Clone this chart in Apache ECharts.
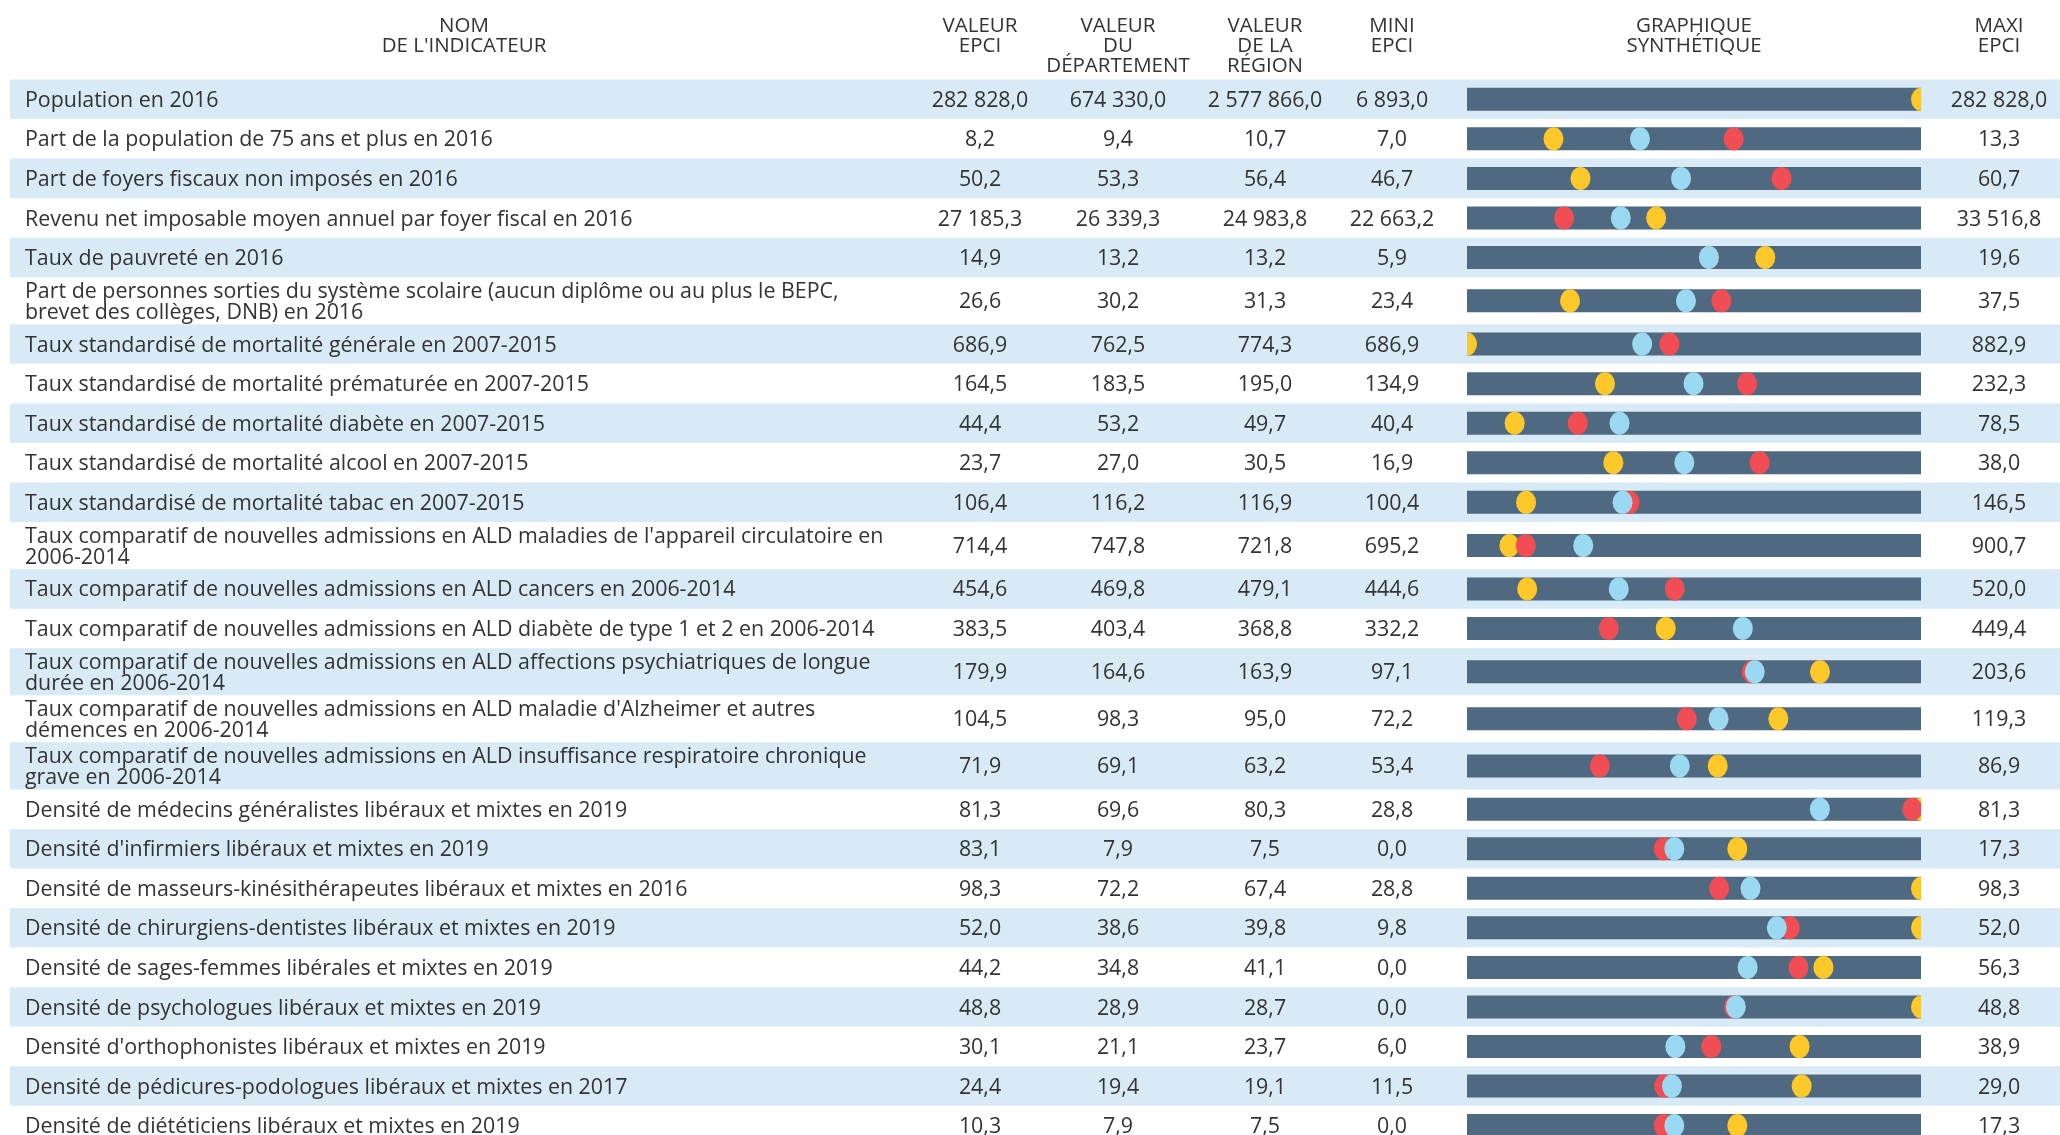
<!DOCTYPE html>
<html>
<head>
<meta charset="utf-8">
<title>Indicateurs EPCI</title>
<script src="https://cdn.jsdelivr.net/npm/echarts@6/dist/echarts.min.js"></script>
<style>
  html, body { margin: 0; padding: 0; background: #fff; }
  #chart { width: 2060px; height: 1135px; }
</style>
</head>
<body>
<div id="chart"></div>
<script>
// ---- données ----
const headers = [
  "NOM\nDE L'INDICATEUR",
  'VALEUR\nEPCI',
  'VALEUR\nDU\nDÉPARTEMENT',
  'VALEUR\nDE LA\nRÉGION',
  'MINI\nEPCI',
  'GRAPHIQUE\nSYNTHÉTIQUE',
  'MAXI\nEPCI'
];

const indicators = [
  'Population en 2016',
  'Part de la population de 75 ans et plus en 2016',
  'Part de foyers fiscaux non imposés en 2016',
  'Revenu net imposable moyen annuel par foyer fiscal en 2016',
  'Taux de pauvreté en 2016',
  'Part de personnes sorties du système scolaire (aucun diplôme ou au plus le BEPC,\nbrevet des collèges, DNB) en 2016',
  'Taux standardisé de mortalité générale en 2007-2015',
  'Taux standardisé de mortalité prématurée en 2007-2015',
  'Taux standardisé de mortalité diabète en 2007-2015',
  'Taux standardisé de mortalité alcool en 2007-2015',
  'Taux standardisé de mortalité tabac en 2007-2015',
  "Taux comparatif de nouvelles admissions en ALD maladies de l'appareil circulatoire en\n2006-2014",
  'Taux comparatif de nouvelles admissions en ALD cancers en 2006-2014',
  'Taux comparatif de nouvelles admissions en ALD diabète de type 1 et 2 en 2006-2014',
  'Taux comparatif de nouvelles admissions en ALD affections psychiatriques de longue\ndurée en 2006-2014',
  "Taux comparatif de nouvelles admissions en ALD maladie d'Alzheimer et autres\ndémences en 2006-2014",
  'Taux comparatif de nouvelles admissions en ALD insuffisance respiratoire chronique\ngrave en 2006-2014',
  'Densité de médecins généralistes libéraux et mixtes en 2019',
  "Densité d'infirmiers libéraux et mixtes en 2019",
  'Densité de masseurs-kinésithérapeutes libéraux et mixtes en 2016',
  'Densité de chirurgiens-dentistes libéraux et mixtes en 2019',
  'Densité de sages-femmes libérales et mixtes en 2019',
  'Densité de psychologues libéraux et mixtes en 2019',
  "Densité d'orthophonistes libéraux et mixtes en 2019",
  'Densité de pédicures-podologues libéraux et mixtes en 2017',
  'Densité de diététiciens libéraux et mixtes en 2019'
];

const epci = [282828.0, 8.2, 50.2, 27185.3, 14.9, 26.6, 686.9, 164.5, 44.4, 23.7, 106.4, 714.4, 454.6,
  383.5, 179.9, 104.5, 71.9, 81.3, 83.1, 98.3, 52.0, 44.2, 48.8, 30.1, 24.4, 10.3];
const departement = [674330.0, 9.4, 53.3, 26339.3, 13.2, 30.2, 762.5, 183.5, 53.2, 27.0, 116.2, 747.8, 469.8,
  403.4, 164.6, 98.3, 69.1, 69.6, 7.9, 72.2, 38.6, 34.8, 28.9, 21.1, 19.4, 7.9];
const region = [2577866.0, 10.7, 56.4, 24983.8, 13.2, 31.3, 774.3, 195.0, 49.7, 30.5, 116.9, 721.8, 479.1,
  368.8, 163.9, 95.0, 63.2, 80.3, 7.5, 67.4, 39.8, 41.1, 28.7, 23.7, 19.1, 7.5];
const miniEpci = [6893.0, 7.0, 46.7, 22663.2, 5.9, 23.4, 686.9, 134.9, 40.4, 16.9, 100.4, 695.2, 444.6,
  332.2, 97.1, 72.2, 53.4, 28.8, 0.0, 28.8, 9.8, 0.0, 0.0, 6.0, 11.5, 0.0];
const maxiEpci = [282828.0, 13.3, 60.7, 33516.8, 19.6, 37.5, 882.9, 232.3, 78.5, 38.0, 146.5, 900.7, 520.0,
  449.4, 203.6, 119.3, 86.9, 81.3, 17.3, 98.3, 52.0, 56.3, 48.8, 38.9, 29.0, 17.3];
// valeur EPCI telle que placée dans le graphique (la ligne infirmiers y montre 10,3)
const epciGraph = [282828.0, 8.2, 50.2, 27185.3, 14.9, 26.6, 686.9, 164.5, 44.4, 23.7, 106.4, 714.4, 454.6,
  383.5, 179.9, 104.5, 71.9, 81.3, 10.3, 98.3, 52.0, 44.2, 48.8, 30.1, 24.4, 10.3];

// ---- mise en page ----
const ROW_H = 39.55;         // ligne simple, px
const ROW_2LINES = 1.19;     // ligne sur deux lignes de texte
const TOP = 79.5;
const NAME_X = 25;
const COL_X = [464, 980, 1118, 1265, 1392, 1694, 1999];
const BAR_LEFT = 1467, BAR_W = 454, BAR_H = 23;
const FONT = '"Open Sans", sans-serif';
const TXT = '#333333';
const TEXT_DY = 1.5;

let acc = 0;
const rowSpans = indicators.map(t => {
  const u = t.indexOf('\n') >= 0 ? ROW_2LINES : 1;
  const s = acc;
  acc += u;
  return [s, acc];
});
const totalUnits = acc;
const rowMid = rowSpans.map(r => (r[0] + r[1]) / 2);

function fmt(v) {
  const parts = v.toFixed(1).split('.');
  return parts[0].replace(/\B(?=(\d{3})+(?!\d))/g, ' ') + ',' + parts[1];
}
const norm = (v, i) => (v - miniEpci[i]) / (maxiEpci[i] - miniEpci[i]);

function txt(x, y, s, align) {
  return {
    type: 'text', x: x, y: y + TEXT_DY,
    style: { text: s, fill: TXT, fontSize: 21.4, fontFamily: FONT, lineHeight: 21,
      align: align, verticalAlign: 'middle' }
  };
}

function renderRow(params, api) {
  const i = params.dataIndex;
  const y0 = api.coord([0, api.value(0)])[1];
  const y1 = api.coord([0, api.value(1)])[1];
  const yc = (y0 + y1) / 2;
  const children = [];
  if (i % 2 === 0) {
    const xa = api.coord([10, 0])[0], xb = api.coord([2060, 0])[0];
    children.push({ type: 'rect', shape: { x: xa, y: y0, width: xb - xa, height: y1 - y0 },
      style: { fill: '#d7eaf6' } });
  }
  children.push(txt(api.coord([NAME_X, 0])[0], yc, indicators[i], 'left'));
  const vals = [epci[i], departement[i], region[i], miniEpci[i]];
  vals.forEach((v, k) => children.push(txt(api.coord([COL_X[k + 1], 0])[0], yc, fmt(v), 'center')));
  children.push(txt(api.coord([COL_X[6], 0])[0], yc, fmt(maxiEpci[i]), 'center'));
  return { type: 'group', children: children };
}

function renderTrack(params, api) {
  const a = api.coord([0, api.value(0)]);
  const b = api.coord([1, api.value(0)]);
  return { type: 'rect', shape: { x: a[0], y: a[1] - BAR_H / 2, width: b[0] - a[0], height: BAR_H },
    style: { fill: '#4f6a80' } };
}

function renderDot(color) {
  return function (params, api) {
    const p = api.coord([api.value(0), api.value(1)]);
    return { type: 'circle', x: p[0], y: p[1], scaleY: 1.15,
      shape: { cx: 0, cy: 0, r: 10 }, style: { fill: color } };
  };
}

function dotSeries(name, values, color) {
  return {
    name: name, type: 'custom', xAxisIndex: 1, yAxisIndex: 1, clip: true,
    renderItem: renderDot(color),
    data: values.map((v, i) => [norm(v, i), rowMid[i]])
  };
}

const chart = echarts.init(document.getElementById('chart'));
chart.setOption({
  animation: false,
  backgroundColor: '#ffffff',
  grid: [
    { left: 0, width: 2060, top: TOP, height: totalUnits * ROW_H, outerBoundsMode: 'none' },
    { left: BAR_LEFT, width: BAR_W, top: TOP, height: totalUnits * ROW_H, outerBoundsMode: 'none' }
  ],
  xAxis: [
    { type: 'value', gridIndex: 0, min: 0, max: 2060, show: false },
    { type: 'value', gridIndex: 1, min: 0, max: 1, show: false }
  ],
  yAxis: [
    { type: 'value', gridIndex: 0, min: 0, max: totalUnits, inverse: true, show: false },
    { type: 'value', gridIndex: 1, min: 0, max: totalUnits, inverse: true, show: false }
  ],
  graphic: headers.map((h, k) => ({
    type: 'text', x: COL_X[k], y: 16, silent: true,
    style: { text: h, fill: TXT, fontSize: 20.5, fontFamily: FONT, lineHeight: 20,
      align: 'center', verticalAlign: 'top' }
  })),
  series: [
    { type: 'custom', name: 'lignes', xAxisIndex: 0, yAxisIndex: 0, renderItem: renderRow,
      data: rowSpans },
    { type: 'custom', name: 'barre', xAxisIndex: 1, yAxisIndex: 1, renderItem: renderTrack,
      data: rowMid.map(m => [m]) },
    dotSeries('Valeur EPCI', epciGraph, '#fdc82a'),
    dotSeries('Valeur de la région', region, '#f04e54'),
    dotSeries('Valeur du département', departement, '#9bd8f1')
  ]
});
</script>
</body>
</html>
